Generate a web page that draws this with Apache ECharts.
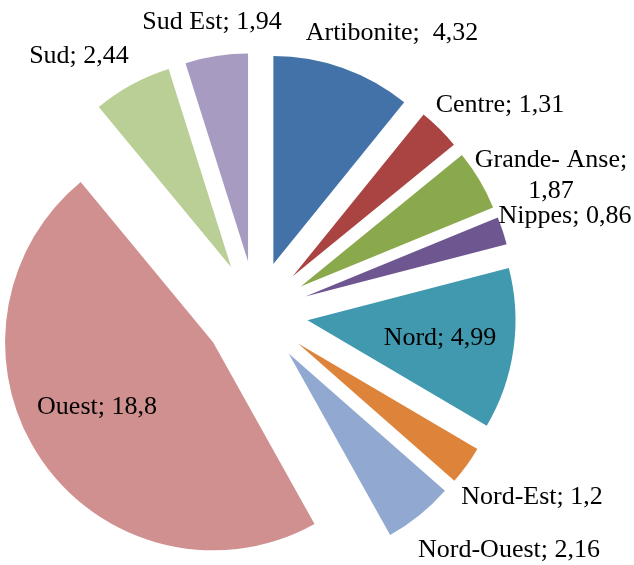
<!DOCTYPE html>
<html>
<head>
<meta charset="utf-8">
<script src="https://cdn.jsdelivr.net/npm/echarts@6/dist/echarts.min.js"></script>
<style>
  html, body { margin: 0; padding: 0; background: #fff; }
  #main { width: 634px; height: 565px; }
</style>
</head>
<body>
<div id="main"></div>
<script>
// departements (sens horaire depuis midi)
var names = ['Artibonite', 'Centre', 'Grande- Anse', 'Nippes', 'Nord', 'Nord-Est', 'Nord-Ouest', 'Ouest', 'Sud', 'Sud Est'];
var values = [4.32, 1.31, 1.87, 0.86, 4.99, 1.2, 2.16, 18.8, 2.44, 1.94];
var colors = ['#4372a8', '#a94442', '#8aa84c', '#6e5690', '#4099ae', '#dd843a', '#91a9d0', '#cf908f', '#b9cf96', '#a89bc1'];

// ou poser chaque etiquette (centre du texte)
var labelPos = [[392, 33], [500, 105], [551, 176], [565, 216], [440, 338],
                [532, 497], [509, 550], [97, 407], [79, 56], [212, 22]];

var myChart = echarts.init(document.getElementById('main'));

function fmt(p) {
    var v = String(p.value).replace('.', ',');
    if (p.name == 'Grande- Anse') return p.name + ';\n' + v;
    if (p.name == 'Artibonite') return p.name + ';  ' + v;
    return p.name + '; ' + v;
}

var sliceData = [];
var labelData = [];
for (var i = 0; i < names.length; i++) {
    sliceData.push({ name: names[i], value: values[i], selected: true, itemStyle: { color: colors[i] } });
    labelData.push({ name: names[i], value: values[i] });
}

var option = {
    animation: false,
    series: [
        {
            // parts eclatees
            type: 'pie',
            z: 2,
            center: [256, 313],
            radius: [0, 208],
            startAngle: 90,
            clockwise: true,
            selectedMode: 'multiple',
            selectedOffset: 52,
            silent: true,
            itemStyle: { borderWidth: 0 },
            select: { itemStyle: { borderWidth: 0 } },
            label: { show: false },
            labelLine: { show: false },
            data: sliceData
        },
        {
            // etiquettes seulement
            type: 'pie',
            z: 10,
            center: [256, 313],
            radius: [0, 208],
            startAngle: 90,
            clockwise: true,
            silent: true,
            itemStyle: { color: 'rgba(0,0,0,0)' },
            label: {
                show: true,
                position: 'inside',
                fontFamily: 'Liberation Serif',
                fontSize: 26,
                color: '#000',
                lineHeight: 31,
                align: 'center',
                formatter: fmt
            },
            labelLine: { show: false },
            labelLayout: function (params) {
                var pos = labelPos[params.dataIndex];
                return { x: pos[0], y: pos[1], align: 'center', verticalAlign: 'middle' };
            },
            data: labelData
        }
    ]
};
myChart.setOption(option);
</script>
</body>
</html>
